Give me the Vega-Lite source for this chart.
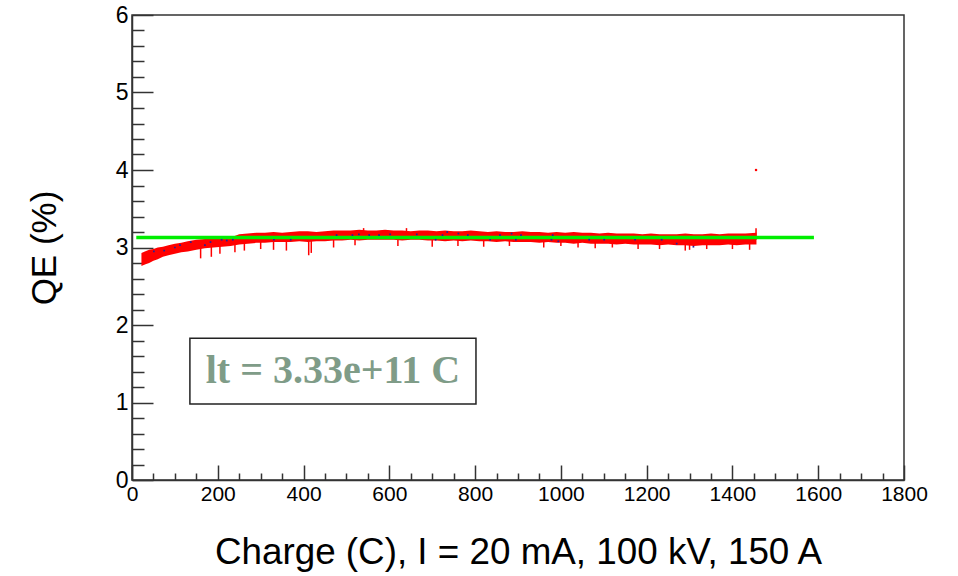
{
  "$schema": "https://vega.github.io/schema/vega-lite/v6.json",
  "width": 772,
  "height": 465,
  "autosize": "none",
  "padding": {"left": 132, "top": 15, "right": 54, "bottom": 96},
  "background": "white",
  "config": {
    "view": {"stroke": "#333333", "strokeWidth": 1.5},
    "font": "Liberation Sans"
  },
  "datasets": {
    "band": [
      {"x": 22, "lo": 2.76, "hi": 2.93}, {"x": 30, "lo": 2.78, "hi": 2.95}, {"x": 40, "lo": 2.8, "hi": 2.97},
      {"x": 50, "lo": 2.83, "hi": 2.98}, {"x": 60, "lo": 2.85, "hi": 3.0}, {"x": 72, "lo": 2.88, "hi": 3.01},
      {"x": 85, "lo": 2.9, "hi": 3.03}, {"x": 100, "lo": 2.92, "hi": 3.05}, {"x": 115, "lo": 2.94, "hi": 3.06},
      {"x": 130, "lo": 2.95, "hi": 3.08}, {"x": 150, "lo": 2.97, "hi": 3.1}, {"x": 170, "lo": 2.99, "hi": 3.11},
      {"x": 190, "lo": 3.0, "hi": 3.12}, {"x": 210, "lo": 3.01, "hi": 3.13}, {"x": 230, "lo": 3.02, "hi": 3.13},
      {"x": 250, "lo": 3.04, "hi": 3.17}, {"x": 270, "lo": 3.05, "hi": 3.18}, {"x": 290, "lo": 3.06, "hi": 3.19},
      {"x": 310, "lo": 3.06, "hi": 3.19}, {"x": 330, "lo": 3.07, "hi": 3.2}, {"x": 350, "lo": 3.07, "hi": 3.19},
      {"x": 370, "lo": 3.07, "hi": 3.2}, {"x": 390, "lo": 3.08, "hi": 3.21}, {"x": 410, "lo": 3.07, "hi": 3.21},
      {"x": 430, "lo": 3.08, "hi": 3.2}, {"x": 450, "lo": 3.08, "hi": 3.21}, {"x": 470, "lo": 3.09, "hi": 3.22},
      {"x": 490, "lo": 3.09, "hi": 3.22}, {"x": 510, "lo": 3.1, "hi": 3.22}, {"x": 530, "lo": 3.09, "hi": 3.23},
      {"x": 550, "lo": 3.1, "hi": 3.22}, {"x": 570, "lo": 3.1, "hi": 3.22}, {"x": 590, "lo": 3.1, "hi": 3.23},
      {"x": 610, "lo": 3.1, "hi": 3.22}, {"x": 630, "lo": 3.09, "hi": 3.22}, {"x": 650, "lo": 3.1, "hi": 3.21},
      {"x": 670, "lo": 3.1, "hi": 3.22}, {"x": 690, "lo": 3.09, "hi": 3.22}, {"x": 710, "lo": 3.09, "hi": 3.21},
      {"x": 730, "lo": 3.08, "hi": 3.22}, {"x": 750, "lo": 3.09, "hi": 3.21}, {"x": 770, "lo": 3.08, "hi": 3.21},
      {"x": 790, "lo": 3.09, "hi": 3.22}, {"x": 810, "lo": 3.08, "hi": 3.21}, {"x": 830, "lo": 3.08, "hi": 3.2},
      {"x": 850, "lo": 3.07, "hi": 3.21}, {"x": 870, "lo": 3.08, "hi": 3.2}, {"x": 890, "lo": 3.07, "hi": 3.2},
      {"x": 910, "lo": 3.07, "hi": 3.21}, {"x": 930, "lo": 3.07, "hi": 3.2}, {"x": 950, "lo": 3.06, "hi": 3.2},
      {"x": 970, "lo": 3.07, "hi": 3.19}, {"x": 990, "lo": 3.06, "hi": 3.2}, {"x": 1010, "lo": 3.06, "hi": 3.19},
      {"x": 1030, "lo": 3.05, "hi": 3.2}, {"x": 1050, "lo": 3.06, "hi": 3.19}, {"x": 1070, "lo": 3.05, "hi": 3.19},
      {"x": 1090, "lo": 3.05, "hi": 3.18}, {"x": 1110, "lo": 3.05, "hi": 3.19}, {"x": 1130, "lo": 3.04, "hi": 3.18},
      {"x": 1150, "lo": 3.05, "hi": 3.18}, {"x": 1170, "lo": 3.04, "hi": 3.18}, {"x": 1190, "lo": 3.04, "hi": 3.17},
      {"x": 1210, "lo": 3.04, "hi": 3.18}, {"x": 1230, "lo": 3.03, "hi": 3.17}, {"x": 1250, "lo": 3.04, "hi": 3.17},
      {"x": 1270, "lo": 3.03, "hi": 3.17}, {"x": 1290, "lo": 3.03, "hi": 3.18}, {"x": 1310, "lo": 3.02, "hi": 3.17},
      {"x": 1330, "lo": 3.03, "hi": 3.17}, {"x": 1350, "lo": 3.03, "hi": 3.18}, {"x": 1370, "lo": 3.03, "hi": 3.17},
      {"x": 1390, "lo": 3.04, "hi": 3.18}, {"x": 1410, "lo": 3.03, "hi": 3.18}, {"x": 1430, "lo": 3.04, "hi": 3.18},
      {"x": 1456, "lo": 3.04, "hi": 3.19}
    ],
    "spikes": [
      {"x": 160, "lo": 2.86, "hi": 3.05}, {"x": 185, "lo": 2.88, "hi": 3.08}, {"x": 205, "lo": 2.92, "hi": 3.1},
      {"x": 240, "lo": 2.94, "hi": 3.1}, {"x": 262, "lo": 2.96, "hi": 3.12}, {"x": 300, "lo": 2.98, "hi": 3.15},
      {"x": 330, "lo": 2.97, "hi": 3.15}, {"x": 360, "lo": 2.96, "hi": 3.15}, {"x": 412, "lo": 2.9, "hi": 3.15},
      {"x": 418, "lo": 2.93, "hi": 3.15}, {"x": 470, "lo": 3.0, "hi": 3.15}, {"x": 520, "lo": 3.03, "hi": 3.15},
      {"x": 540, "lo": 3.1, "hi": 3.25}, {"x": 620, "lo": 3.02, "hi": 3.15}, {"x": 640, "lo": 3.1, "hi": 3.25},
      {"x": 700, "lo": 3.01, "hi": 3.15}, {"x": 760, "lo": 3.02, "hi": 3.15}, {"x": 820, "lo": 3.01, "hi": 3.15},
      {"x": 880, "lo": 3.02, "hi": 3.15}, {"x": 960, "lo": 3.0, "hi": 3.15}, {"x": 1000, "lo": 3.02, "hi": 3.15},
      {"x": 1040, "lo": 3.0, "hi": 3.15}, {"x": 1080, "lo": 2.99, "hi": 3.15}, {"x": 1120, "lo": 3.0, "hi": 3.15},
      {"x": 1180, "lo": 2.98, "hi": 3.15}, {"x": 1230, "lo": 2.98, "hi": 3.15}, {"x": 1290, "lo": 2.96, "hi": 3.15},
      {"x": 1300, "lo": 2.97, "hi": 3.15}, {"x": 1340, "lo": 2.98, "hi": 3.15}, {"x": 1400, "lo": 2.98, "hi": 3.15},
      {"x": 1440, "lo": 2.97, "hi": 3.15}, {"x": 1455, "lo": 3.1, "hi": 3.25}
    ],
    "dots": [
      {"x": 51, "y": 2.95}, {"x": 75, "y": 2.96}, {"x": 100, "y": 3.0}, {"x": 112, "y": 3.03}, {"x": 137, "y": 3.07},
      {"x": 170, "y": 3.03}, {"x": 183, "y": 3.07}, {"x": 209, "y": 3.1}, {"x": 221, "y": 3.09}, {"x": 235, "y": 3.1},
      {"x": 331, "y": 3.1}, {"x": 370, "y": 3.1}, {"x": 477, "y": 3.16}, {"x": 514, "y": 3.16}, {"x": 529, "y": 3.17},
      {"x": 553, "y": 3.16}, {"x": 576, "y": 3.16}, {"x": 602, "y": 3.17}, {"x": 664, "y": 3.17}, {"x": 708, "y": 3.1},
      {"x": 724, "y": 3.16}, {"x": 735, "y": 3.2}, {"x": 761, "y": 3.18}, {"x": 783, "y": 3.16}, {"x": 835, "y": 3.1},
      {"x": 858, "y": 3.16}, {"x": 885, "y": 3.18}, {"x": 895, "y": 3.1}, {"x": 907, "y": 3.16}, {"x": 978, "y": 3.1},
      {"x": 981, "y": 3.16}, {"x": 994, "y": 3.08}, {"x": 1066, "y": 3.1}, {"x": 1101, "y": 3.1}, {"x": 1173, "y": 3.1},
      {"x": 1235, "y": 3.1}, {"x": 1270, "y": 3.05}, {"x": 1309, "y": 3.01}
    ],
    "fit": [{"x": 10, "x2": 1590, "y": 3.13}],
    "outlier": [{"x": 1455, "y": 4.0}],
    "box": [{"x": 135, "x2": 802, "y": 0.98, "y2": 1.83, "tx": 468.5, "ty": 1.41, "label": "lt = 3.33e+11 C"}]
  },
  "layer": [
    {
      "data": {"name": "band"},
      "mark": {"type": "area", "color": "#ff0000", "interpolate": "linear"},
      "encoding": {
        "x": {
          "field": "x", "type": "quantitative",
          "scale": {"domain": [0, 1800], "nice": false, "zero": false},
          "axis": {
            "orient": "bottom",
            "title": "Charge (C), I = 20 mA, 100 kV, 150 A",
            "titleFont": "Liberation Sans", "titleFontSize": 36.8, "titleFontWeight": "normal", "titleColor": "black",
            "titlePadding": 22,
            "values": [0, 50, 100, 150, 200, 250, 300, 350, 400, 450, 500, 550, 600, 650, 700, 750, 800, 850, 900, 950, 1000, 1050, 1100, 1150, 1200, 1250, 1300, 1350, 1400, 1450, 1500, 1550, 1600, 1650, 1700, 1750, 1800],
            "tickCount": 200,
            "labelExpr": "datum.value % 200 === 0 ? format(datum.value, 'd') : ''",
            "labelFont": "Liberation Sans", "labelFontSize": 21, "labelColor": "black",
            "labelFlush": false, "labelOverlap": false, "labelPadding": 18, "labelBaseline": "top",
            "tickSize": {"condition": {"test": "datum.value % 200 === 0", "value": -15}, "value": -7},
            "tickColor": "#333333", "tickWidth": 1.5,
            "domainColor": "#333333", "domainWidth": 1.5,
            "grid": false
          }
        },
        "y": {
          "field": "lo", "type": "quantitative",
          "scale": {"domain": [0, 6], "nice": false, "zero": false},
          "axis": {
            "orient": "left",
            "title": "QE (%)",
            "titleFont": "Liberation Sans", "titleFontSize": 35, "titleFontWeight": "normal", "titleColor": "black",
            "titlePadding": 53,
            "values": [0, 0.2, 0.4, 0.6, 0.8, 1, 1.2, 1.4, 1.6, 1.8, 2, 2.2, 2.4, 2.6, 2.8, 3, 3.2, 3.4, 3.6, 3.8, 4, 4.2, 4.4, 4.6, 4.8, 5, 5.2, 5.4, 5.6, 5.8, 6],
            "tickCount": 200,
            "labelExpr": "abs(datum.value - round(datum.value)) < 0.001 ? format(datum.value, 'd') : ''",
            "labelFont": "Liberation Sans", "labelFontSize": 23, "labelColor": "black",
            "labelFlush": false, "labelOverlap": false, "labelPadding": 25,
            "tickSize": {"condition": {"test": "abs(datum.value - round(datum.value)) < 0.001", "value": -21}, "value": -12},
            "tickColor": "#333333", "tickWidth": 1.5,
            "domainColor": "#333333", "domainWidth": 1.5,
            "grid": false
          }
        },
        "y2": {"field": "hi"}
      }
    },
    {
      "data": {"name": "spikes"},
      "mark": {"type": "rule", "color": "#ff0000", "strokeWidth": 1.5},
      "encoding": {
        "x": {"field": "x", "type": "quantitative"},
        "y": {"field": "lo", "type": "quantitative"},
        "y2": {"field": "hi"}
      }
    },
    {
      "data": {"name": "outlier"},
      "mark": {"type": "square", "color": "#ff0000", "size": 5, "opacity": 1},
      "encoding": {
        "x": {"field": "x", "type": "quantitative"},
        "y": {"field": "y", "type": "quantitative"}
      }
    },
    {
      "data": {"name": "fit"},
      "mark": {"type": "rule", "color": "#00ee00", "strokeWidth": 3.5},
      "encoding": {
        "x": {"field": "x", "type": "quantitative"},
        "x2": {"field": "x2"},
        "y": {"field": "y", "type": "quantitative"}
      }
    },
    {
      "data": {"name": "dots"},
      "mark": {"type": "square", "color": "#22229a", "size": 3, "opacity": 1},
      "encoding": {
        "x": {"field": "x", "type": "quantitative"},
        "y": {"field": "y", "type": "quantitative"}
      }
    },
    {
      "data": {"name": "box"},
      "mark": {"type": "rect", "fill": "white", "stroke": "#222222", "strokeWidth": 1.5},
      "encoding": {
        "x": {"field": "x", "type": "quantitative"},
        "x2": {"field": "x2"},
        "y": {"field": "y", "type": "quantitative"},
        "y2": {"field": "y2"}
      }
    },
    {
      "data": {"name": "box"},
      "mark": {"type": "text", "font": "Liberation Serif", "fontWeight": "bold", "fontSize": 40, "color": "#7f9c88", "align": "center", "baseline": "middle"},
      "encoding": {
        "x": {"field": "tx", "type": "quantitative"},
        "y": {"field": "ty", "type": "quantitative"},
        "text": {"field": "label"}
      }
    }
  ]
}
